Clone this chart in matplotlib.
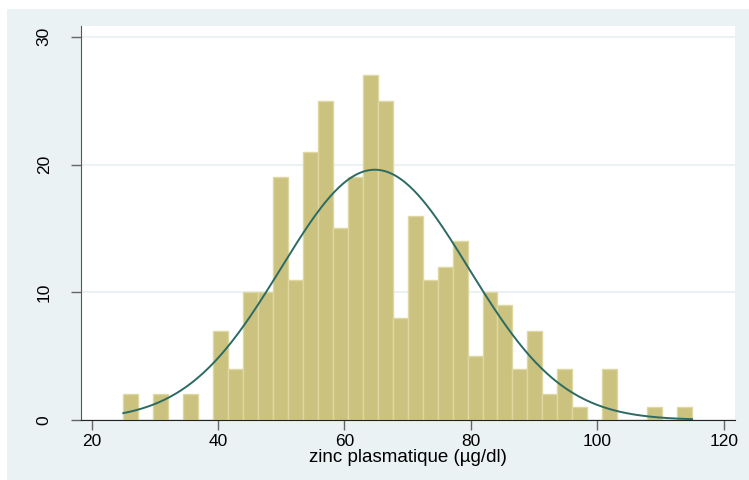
import numpy as np
import matplotlib
matplotlib.use("Agg")
import matplotlib.pyplot as plt
from matplotlib.patches import Rectangle

plt.rcParams['font.family'] = ['Liberation Sans', 'DejaVu Sans']

## histogram bins (38 bins between min and max of the variable)
x_min = 25.0
x_max = 115.0
counts = [2, 0, 2, 0, 2, 0, 7, 4, 10, 10,
          19, 11, 21, 25, 15, 19, 27, 25, 8, 16,
          11, 12, 14, 5, 10, 9, 4, 7, 2, 4,
          1, 0, 4, 0, 0, 1, 0, 1]
# normal density overlay (sample mean / sd)
mean_zinc = 64.8
sd_zinc = 14.85

x_ticks = [20, 40, 60, 80, 100, 120]
y_ticks = [0, 10, 20, 30]
x_title = "zinc plasmatique (µg/dl)"

bg = '#EAF2F3'
bar_fill = '#CAC27E'
bar_edge = '#DED7A2'
curve_col = '#2B6B63'

fig = plt.figure(figsize=(7.49, 4.8), dpi=100)
fig.patches.append(Rectangle((7/749, 0), 1, 1 - 9/480, transform=fig.transFigure,
                             facecolor=bg, edgecolor='none', zorder=-5))

ax = fig.add_axes([81/749, 1 - 420/480, (735-81)/749, (420-26)/480])
ax.set_facecolor('white')

n_bins = len(counts)
width = (x_max - x_min) / n_bins
left_edges = x_min + width * np.arange(n_bins)
ax.bar(left_edges, counts, width=width, align='edge', color=bar_fill,
       edgecolor=bar_edge, linewidth=1.0, zorder=2)

# expected frequencies under the normal curve
xs = np.linspace(x_min, x_max, 400)
n_obs = sum(counts)
dens = np.exp(-0.5 * ((xs - mean_zinc) / sd_zinc) ** 2) / (sd_zinc * np.sqrt(2 * np.pi))
ax.plot(xs, dens * n_obs * width, color=curve_col, linewidth=1.4, zorder=3)

ax.set_xlim(18.3, 121.8)
ax.set_ylim(0, 30.85)
ax.set_xticks(x_ticks)
ax.set_yticks(y_ticks)
ax.set_yticklabels([str(v) for v in y_ticks], rotation=90, va='center')
ax.yaxis.grid(True, color=bg, linewidth=1.5, zorder=1)
ax.set_axisbelow(True)

for s in ['top', 'right']:
    ax.spines[s].set_visible(False)
ax.spines['left'].set_color('#555555')
ax.spines['bottom'].set_color('#222222')
ax.tick_params(axis='both', length=7, width=1, color='#666666',
               labelsize=12.5, labelcolor='black', pad=3)
ax.tick_params(axis='y', pad=14)

ax.set_xlabel(x_title, fontsize=13.5, labelpad=0)

fig.savefig('out.png', dpi=100)
